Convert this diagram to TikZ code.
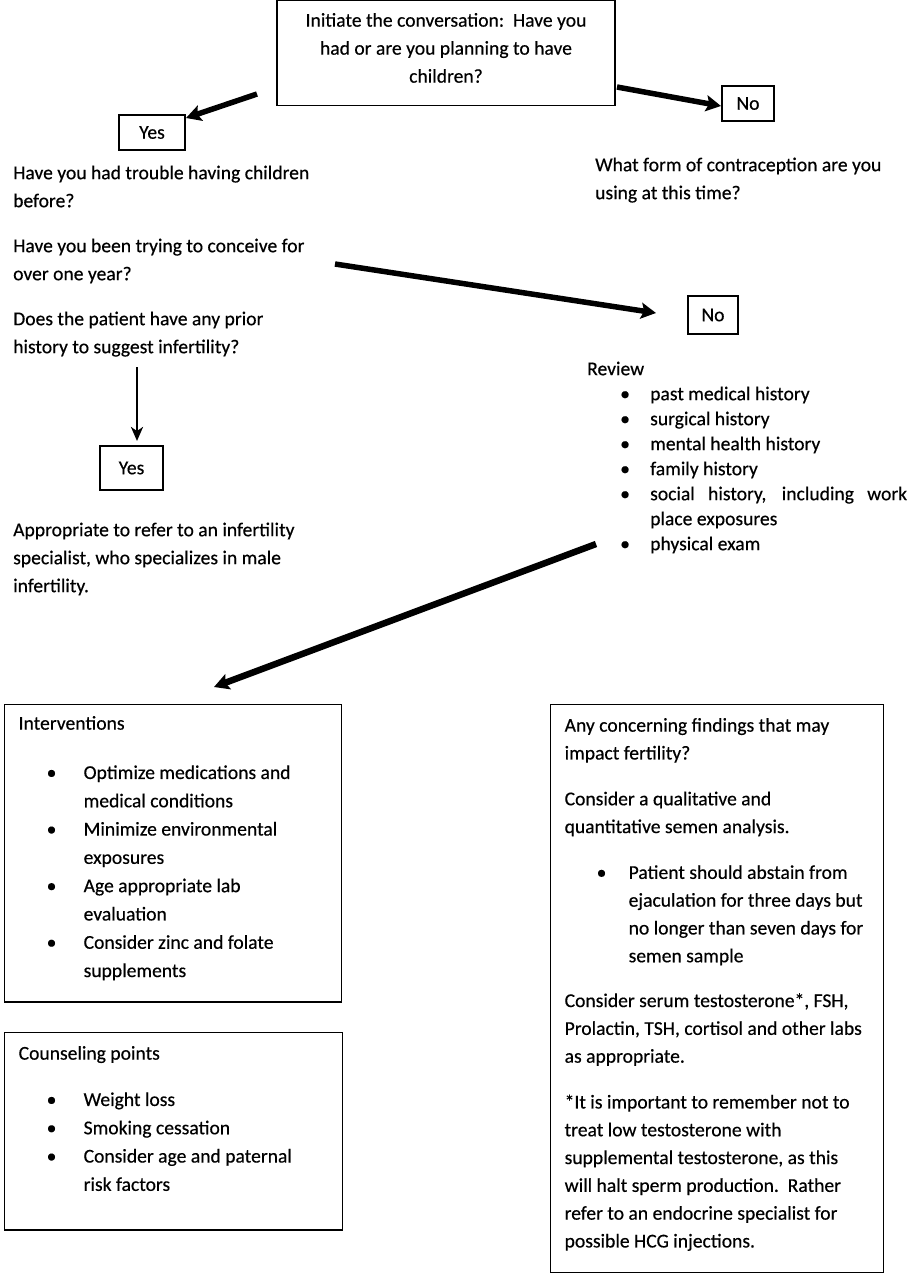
\documentclass[tikz,border=0pt]{standalone}
\usepackage{fontspec}
\setmainfont{Carlito}[FakeBold=0.4]
\usetikzlibrary{arrows.meta}
\newcommand\firstln{\rule{0pt}{16pt}}
\newcommand\myrtop[1]{\rule{0pt}{#1}}
\newcommand\myrbot[1]{\rule[-#1]{0pt}{#1}}
\newcommand\bline[3]{\hspace*{#1}\makebox[#2][l]{\textbullet}#3}
\begin{document}
\begin{tikzpicture}[x=1pt,y=-1pt,
  every node/.style={font=\fontsize{19.6}{28}\selectfont},
  box/.style={draw, line width=1.3pt, inner xsep=14pt, inner ysep=0pt, align=left, anchor=north west},
  smallbox/.style={draw, line width=1.3pt, inner sep=0pt, align=center},
  txt/.style={inner sep=0pt, align=left, anchor=north west},
  thick arrow/.style={line width=5.5pt, -{Stealth[length=15pt,width=16pt,inset=3pt]}},
  thin arrow/.style={line width=2.8pt, -{Stealth[length=14pt,width=12pt,inset=4pt]}}]
\useasboundingbox (0,0) rectangle (909,1280);
\fill[white] (0,0) rectangle (909,1280);

% top box
\node[smallbox, anchor=north, minimum width=338pt] (top) at (446,0)
  {\myrtop{26pt}Initiate the conversation:\ \ Have you\\
   had or are you planning to have\\
   children?\myrbot{23pt}};

% small answer boxes
\node[smallbox, minimum width=66pt, minimum height=35pt] (yes1) at (152,132.5) {Yes};
\node[smallbox, minimum width=52pt, minimum height=35pt] (no1) at (748,103.5) {No};
\node[smallbox, minimum width=50pt, minimum height=38pt] (no2) at (713,315) {No};
\node[smallbox, minimum width=63pt, minimum height=44pt] (yes2) at (131.5,468) {Yes};

% free text blocks
\node[txt] (q1) at (13,163) {\firstln Have you had trouble having children\\before?};
\node[txt] (q2) at (13,236) {\firstln Have you been trying to conceive for\\over one year?};
\node[txt] (q3) at (13,309) {\firstln Does the patient have any prior\\history to suggest infertility?};
\node[txt] (contra) at (595,155) {\firstln What form of contraception are you\\using at this time?};
\node[txt] (refer) at (13,520) {\firstln Appropriate to refer to an infertility\\specialist, who specializes in male\\infertility.};
\node[txt, font=\fontsize{19.6}{25}\selectfont] (review) at (587,359)
  {\firstln Review\\
   \bline{33pt}{30pt}{past medical history}\\
   \bline{33pt}{30pt}{surgical history}\\
   \bline{33pt}{30pt}{mental health history}\\
   \bline{33pt}{30pt}{family history}\\
   \bline{33pt}{30pt}{\makebox[257pt][s]{social history, including work}}\\
   \hspace*{63pt}place exposures\\
   \bline{33pt}{30pt}{physical exam}};

% bottom boxes
\node[box, font=\fontsize{19.6}{28.3}\selectfont] (interv) at (4,704)
  {\myrtop{25pt}\makebox[309pt][l]{Interventions}\\[21pt]
   \bline{28pt}{37pt}{Optimize medications and}\\
   \hspace*{65pt}medical conditions\\
   \bline{28pt}{37pt}{Minimize environmental}\\
   \hspace*{65pt}exposures\\
   \bline{28pt}{37pt}{Age appropriate lab}\\
   \hspace*{65pt}evaluation\\
   \bline{28pt}{37pt}{Consider zinc and folate}\\
   \hspace*{65pt}supplements\myrbot{25pt}};

\node[box, font=\fontsize{19.6}{28.3}\selectfont] (couns) at (4,1032)
  {\myrtop{27pt}\makebox[310pt][l]{Counseling points}\\[18pt]
   \bline{28pt}{37pt}{Weight loss}\\
   \bline{28pt}{37pt}{Smoking cessation}\\
   \bline{28pt}{37pt}{Consider age and paternal}\\
   \hspace*{65pt}risk factors\myrbot{39pt}};

\node[box, font=\fontsize{19.6}{27.8}\selectfont] (find) at (550,704)
  {\myrtop{27pt}Any concerning findings that may\\
   impact fertility?\\[18pt]
   Consider a qualitative and\\
   quantitative semen analysis.\\[18pt]
   \bline{32pt}{32pt}{Patient should abstain from}\\
   \hspace*{64pt}ejaculation for three days but\\
   \hspace*{64pt}no longer than seven days for\\
   \hspace*{64pt}semen sample\\[17pt]
   Consider serum testosterone*, FSH,\\
   \makebox[305pt][l]{Prolactin, TSH, cortisol and other labs}\\
   as appropriate.\\[18pt]
   *It is important to remember not to\\
   treat low testosterone with\\
   supplemental testosterone, as this\\
   will halt sperm production.\ \ Rather\\
   refer to an endocrine specialist for\\
   possible HCG injections.\myrbot{25pt}};

% connector end points
\coordinate (a1s) at (257,94);
\coordinate (a2s) at (617,87);
\coordinate (a3s) at (335,264);
\coordinate (a3e) at (656,313);
\coordinate (a4s) at (137,367);
\coordinate (a4e) at (137,441);
\coordinate (a5s) at (596,544);
\coordinate (a5e) at (214,687);
\coordinate (a1e) at (186,118);
\coordinate (a2e) at (721,106);

\draw[thick arrow] (a1s) -- (a1e);
\draw[thick arrow] (a2s) -- (a2e);
\draw[thick arrow] (a3s) -- (a3e);
\draw[thin arrow] (a4s) -- (a4e);
\draw[thick arrow, line width=6.5pt] (a5s) -- (a5e);
\end{tikzpicture}
\end{document}
